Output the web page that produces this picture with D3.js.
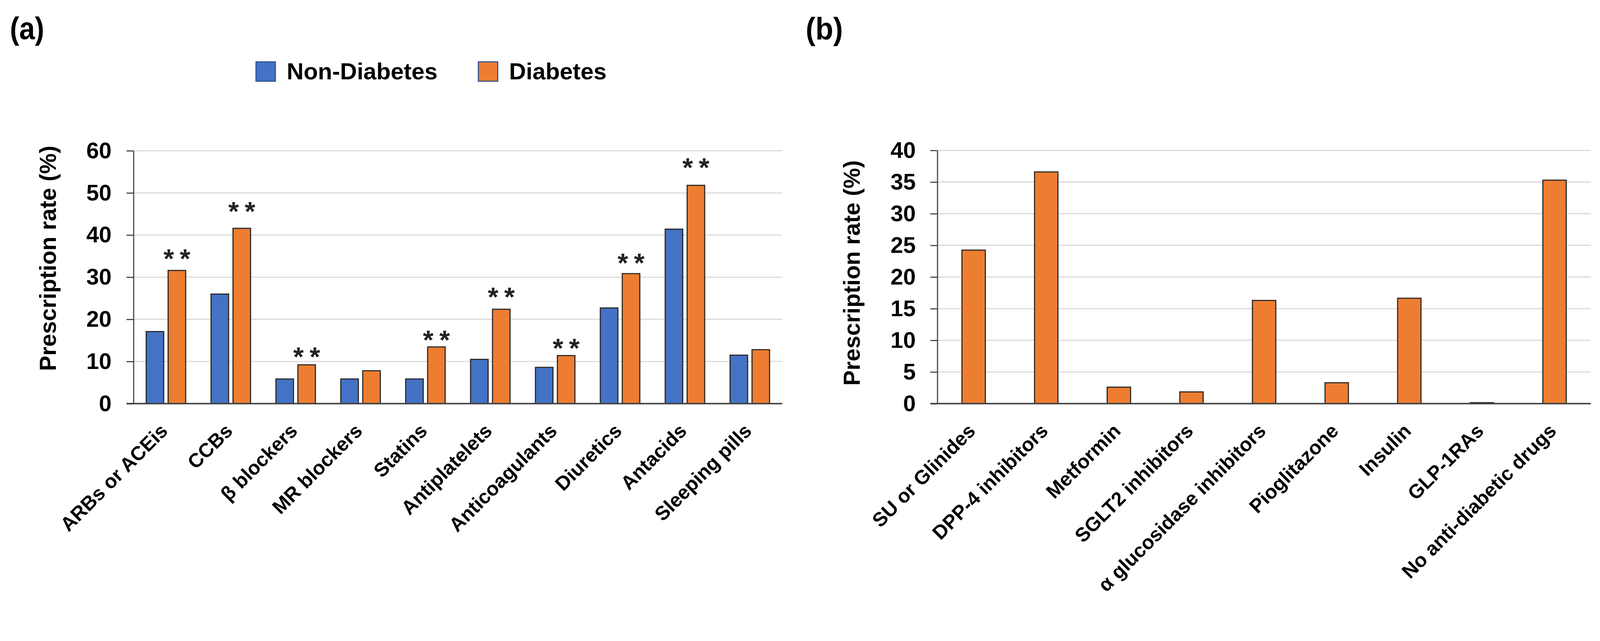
<!DOCTYPE html>
<html>
<head>
<meta charset="utf-8">
<script src="https://cdn.jsdelivr.net/npm/d3@7"></script>
<style>
  html, body { margin: 0; padding: 0; background: #ffffff; overflow: hidden; width: 100%; height: 100%; }
  svg { display: block; width: 100vw; height: 100vh; }
  text { font-family: "Liberation Sans", Arial, sans-serif; }
</style>
</head>
<body>
<svg id="chart" viewBox="0 0 4375 1640" preserveAspectRatio="xMinYMin meet"></svg>
<script>
// ---------- data ----------
const categoriesA = ["ARBs or ACEis", "CCBs", "β blockers", "MR blockers", "Statins",
  "Antiplatelets", "Anticoagulants", "Diuretics", "Antacids", "Sleeping pills"];
const seriesNames = ["Non-Diabetes", "Diabetes"];
const nonDiabetesValues = [17.1, 26.0, 5.85, 5.85, 5.85, 10.5, 8.6, 22.7, 41.4, 11.5];
const diabetesValues    = [31.6, 41.6, 9.2, 7.8, 13.45, 22.4, 11.4, 30.85, 51.8, 12.8];
const significant = [true, true, true, false, true, true, true, true, true, false];
const sigMarkLevel = [36.05, 47.3, 12.76, null, 16.76, 26.95, 14.85, 35.08, 57.7, null];
const ticksA = [0, 10, 20, 30, 40, 50, 60];

const categoriesB = ["SU or Glinides", "DPP-4 inhibitors", "Metformin", "SGLT2 inhibitors",
  "α glucosidase inhibitors", "Pioglitazone", "Insulin", "GLP-1RAs", "No anti-diabetic drugs"];
const valuesB = [24.25, 36.6, 2.6, 1.85, 16.3, 3.3, 16.65, 0.15, 35.3];
const ticksB = [0, 5, 10, 15, 20, 25, 30, 35, 40];

const yTitle = "Prescription rate (%)";

// ---------- styles ----------
const BLUE = "#4472C4", ORANGE = "#ED7D31";
const seriesColors = [BLUE, ORANGE];
const GRID = "#d9d9d9", AXIS = "#404040", BAR_STROKE = "#262626";
const FONT = '"Liberation Sans", Arial, sans-serif';

const svg = d3.select("#chart");

function panel(opts) {
  const g = svg.append("g");
  const y = d3.scaleLinear().domain(opts.domain).range([opts.y0, opts.y1]);
  g.append("g").selectAll("line").data(opts.ticks.filter(t => t > 0)).join("line")
    .attr("x1", opts.xl).attr("x2", opts.xr)
    .attr("y1", d => y(d)).attr("y2", d => y(d))
    .attr("stroke", GRID).attr("stroke-width", 3);
  const ax = g.append("g").attr("transform", `translate(${opts.xl},0)`)
    .call(d3.axisLeft(y).tickValues(opts.ticks).tickSize(19).tickPadding(opts.tickPad).tickSizeOuter(0));
  ax.select(".domain").attr("stroke", AXIS).attr("stroke-width", 3);
  ax.selectAll(".tick line").attr("stroke", AXIS).attr("stroke-width", 3);
  ax.selectAll(".tick text").attr("font-family", FONT).attr("font-size", 62)
    .attr("font-weight", "bold").attr("fill", "#000");
  g.append("text")
    .attr("transform", `translate(${opts.titleX},${opts.titleY}) rotate(-90)`)
    .attr("text-anchor", "middle").attr("font-size", 63).attr("font-weight", "bold")
    .attr("fill", "#000").text(yTitle);
  return { g, y };
}

// ---------- panel (a) ----------
const A = panel({ domain: [0, 60], y0: 1103, y1: 412, xl: 365, xr: 2139, ticks: ticksA,
  tickPad: 41, titleX: 153, titleY: 706 });
const x0A = d3.scaleBand().domain(categoriesA).range([365, 2139])
  .paddingInner(1 - 108 / 177.4).paddingOuter((1 - 108 / 177.4) / 2);
const x1A = d3.scaleBand().domain(seriesNames).range([0, x0A.bandwidth()]).paddingInner(0.2);
const seriesValues = [nonDiabetesValues, diabetesValues];
const barsA = [];
categoriesA.forEach((c, i) => seriesNames.forEach((s, j) =>
  barsA.push({ c, s, v: seriesValues[j][i], color: seriesColors[j] })));
A.g.append("g").selectAll("rect").data(barsA).join("rect")
  .attr("x", d => x0A(d.c) + x1A(d.s))
  .attr("width", x1A.bandwidth())
  .attr("y", d => A.y(d.v))
  .attr("height", d => A.y(0) - A.y(d.v))
  .attr("fill", d => d.color).attr("stroke", BAR_STROKE).attr("stroke-width", 3);
A.g.append("line").attr("x1", 346).attr("x2", 2139).attr("y1", A.y(0)).attr("y2", A.y(0))
  .attr("stroke", AXIS).attr("stroke-width", 4);
A.g.append("g").selectAll("text")
  .data(categoriesA.map((c, i) => ({ c, on: significant[i], lvl: sigMarkLevel[i] })).filter(d => d.on))
  .join("text")
  .attr("x", d => x0A(d.c) + x1A("Diabetes") + x1A.bandwidth() / 2 + 8)
  .attr("y", d => A.y(d.lvl) + 44)
  .attr("text-anchor", "middle").attr("font-size", 74).attr("font-weight", "bold")
  .attr("letter-spacing", 16).attr("fill", "#222").text("**");
A.g.append("g").selectAll("text").data(categoriesA).join("text")
  .attr("transform", d => `translate(${x0A(d) + x0A.bandwidth() / 2 + 8},${A.y(0) + 78}) rotate(-45)`)
  .attr("text-anchor", "end").attr("font-size", 54).attr("font-weight", "bold")
  .attr("fill", "#000").text(d => d);

// ---------- panel (b) ----------
const B = panel({ domain: [0, 40], y0: 1103, y1: 411, xl: 2563, xr: 4350, ticks: ticksB,
  tickPad: 40, titleX: 2351, titleY: 746 });
const padB = 1 - 64 / 198.6;
const xB = d3.scaleBand().domain(categoriesB).range([2563, 4350]).paddingInner(padB).paddingOuter(padB / 2);
B.g.append("g").selectAll("rect").data(categoriesB.map((c, i) => ({ c, v: valuesB[i] }))).join("rect")
  .attr("x", d => xB(d.c)).attr("width", xB.bandwidth())
  .attr("y", d => B.y(d.v)).attr("height", d => B.y(0) - B.y(d.v))
  .attr("fill", ORANGE).attr("stroke", BAR_STROKE).attr("stroke-width", 3);
B.g.append("line").attr("x1", 2544).attr("x2", 4350).attr("y1", B.y(0)).attr("y2", B.y(0))
  .attr("stroke", AXIS).attr("stroke-width", 4);
B.g.append("g").selectAll("text").data(categoriesB).join("text")
  .attr("transform", d => `translate(${xB(d) + xB.bandwidth() / 2 + 8},${B.y(0) + 78}) rotate(-45)`)
  .attr("text-anchor", "end").attr("font-size", 54).attr("font-weight", "bold")
  .attr("fill", "#000").text(d => d);

// ---------- legend ----------
const legend = svg.append("g");
const legendItems = [
  { name: seriesNames[0], color: BLUE, rx: 700, tx: 784 },
  { name: seriesNames[1], color: ORANGE, rx: 1308, tx: 1392 }
];
legend.selectAll("rect").data(legendItems).join("rect")
  .attr("x", d => d.rx).attr("y", 169).attr("width", 53).attr("height", 53)
  .attr("fill", d => d.color).attr("stroke", "#2F528F").attr("stroke-width", 3);
legend.selectAll("text").data(legendItems).join("text")
  .attr("x", d => d.tx).attr("y", 217).attr("font-size", 64).attr("font-weight", "bold")
  .attr("fill", "#000").text(d => d.name);

// ---------- panel labels ----------
svg.append("text").attr("x", 27).attr("y", 107).attr("font-size", 86).attr("font-weight", "bold")
  .attr("textLength", 94).attr("lengthAdjust", "spacingAndGlyphs").text("(a)");
svg.append("text").attr("x", 2203).attr("y", 108).attr("font-size", 86).attr("font-weight", "bold")
  .attr("textLength", 102).attr("lengthAdjust", "spacingAndGlyphs").text("(b)");
</script>
</body>
</html>
